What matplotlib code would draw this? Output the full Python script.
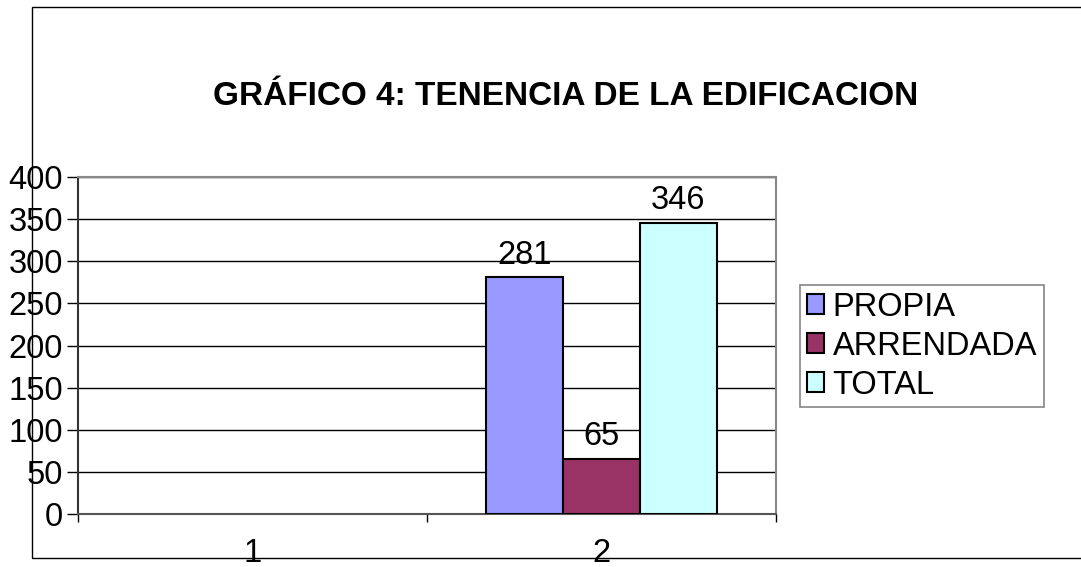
import matplotlib.pyplot as plt
from matplotlib.patches import Rectangle
import numpy as np

plt.rcParams['font.family'] = ['Liberation Sans', 'DejaVu Sans']

categories = [1, 2]
series = ["PROPIA", "ARRENDADA", "TOTAL"]
propia = [0, 281]
arrendada = [0, 65]
total = [0, 346]
colors = ["#9999FF", "#993366", "#CCFFFF"]

fs = 23.5

fig = plt.figure(figsize=(10.81, 5.67), dpi=100)
ax = fig.add_axes([0.0722, 0.0935, 0.6457, 0.5943])

# outer chart frame
fig.patches.append(Rectangle((32 / 1081, 1 - 558 / 567), 1.2, 551 / 567,
                             transform=fig.transFigure, fill=False,
                             edgecolor="black", linewidth=1.0, zorder=0))

x = np.array(categories, dtype=float)
width = 0.22
handles = []
for i, (name, vals, c) in enumerate(zip(series, [propia, arrendada, total], colors)):
    vals = np.array(vals, dtype=float)
    pos = x + (i - 1) * width
    mask = vals > 0
    b = ax.bar(pos[mask], vals[mask], width, color=c, edgecolor="black",
               linewidth=1.5, label=name, zorder=3)
    handles.append(b)
    for p, v in zip(pos[mask], vals[mask]):
        ax.text(p, v + 8, f"{int(v)}", ha="center", va="bottom", fontsize=fs)

ax.set_xlim(0.5, 2.5)
ax.set_ylim(0, 400)
ax.set_yticks(np.arange(0, 401, 50))
ax.yaxis.grid(True, color="black", linewidth=1.0, zorder=0)
ax.set_axisbelow(True)

ax.set_xticks([0.5, 1.5, 2.5])
ax.set_xticklabels([])
ax.tick_params(axis="x", which="major", direction="out", length=6, width=1, color="black")
ax.set_xticks(categories, minor=True)
ax.set_xticklabels([str(c) for c in categories], minor=True)
ax.tick_params(axis="x", which="minor", length=0, pad=17, labelsize=fs)
ax.tick_params(axis="y", direction="out", length=8, width=1, labelsize=fs, pad=3)

ax.spines["left"].set_color("#333333")
ax.spines["bottom"].set_color("#555555")
ax.spines["top"].set_color("#888888")
ax.spines["right"].set_color("#888888")
for s in ax.spines.values():
    s.set_linewidth(1.5)

fig.text(566 / 1081, 1 - 97 / 567, "GRÁFICO 4: TENENCIA DE LA EDIFICACION",
         ha="center", va="center", fontsize=24, fontweight="bold")

leg = fig.legend(handles=handles, loc="upper left",
                 bbox_to_anchor=(800 / 1081, 1 - 285 / 567), fontsize=fs,
                 frameon=True, fancybox=False, edgecolor="#666666",
                 handlelength=0.55, handleheight=0.55, handletextpad=0.25,
                 labelspacing=0.25, borderpad=0.2, borderaxespad=0)
leg.get_frame().set_linewidth(1.2)

fig.savefig("out.png", dpi=100)
